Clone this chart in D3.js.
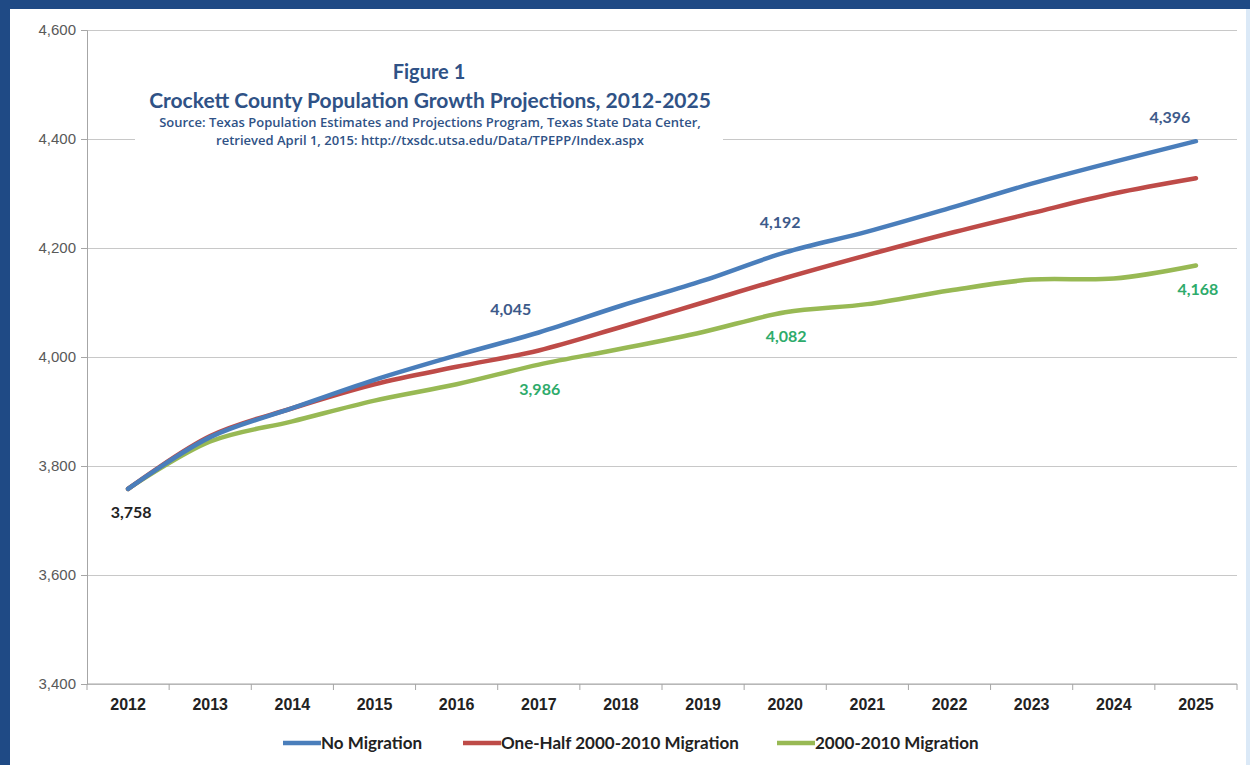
<!DOCTYPE html>
<html>
<head>
<meta charset="utf-8">
<script src="https://cdn.jsdelivr.net/npm/d3@7"></script>
<style>
  body { margin: 0; background: #fff; }
  svg { display: block; font-family: Lato, "Open Sans", sans-serif; }
  .grid line { stroke: #c8c8c8; }
  .axis path, .axis line { stroke: #a6a6a6; }
  .yaxis text { fill: #595959; font-size: 15px; }
  .xaxis text { fill: #222; font-size: 16px; font-weight: bold; }
</style>
</head>
<body>
<svg id="chart"></svg>
<script>
var years = ["2012","2013","2014","2015","2016","2017","2018","2019","2020","2021","2022","2023","2024","2025"];
var noMigration = [3758, 3853, 3906, 3958, 4003, 4045, 4094, 4140, 4192, 4230, 4273, 4318, 4358, 4396];
var halfMigration = [3758, 3855, 3906, 3950, 3982, 4012, 4055, 4100, 4145, 4187, 4227, 4264, 4300, 4328];
var fullMigration = [3758, 3845, 3882, 3920, 3950, 3986, 4015, 4046, 4082, 4097, 4122, 4142, 4144, 4168];
var seriesNames = ["No Migration", "One-Half 2000-2010 Migration", "2000-2010 Migration"];
var yTicks = [3400, 3600, 3800, 4000, 4200, 4400, 4600];
var blueLabelYears = ["2017", "2020", "2025"];
var greenLabelYears = ["2017", "2020", "2025"];

var width = 1250, height = 765;
var margin = {top: 30, right: 13, bottom: 81, left: 87};
var colors = ["#4a7ebb", "#be4b48", "#98b954"];

var svg = d3.select("#chart").attr("width", width).attr("height", height);

// frame
svg.append("rect").attr("x", 0).attr("y", 0).attr("width", width).attr("height", height).attr("fill", "#fff");
svg.append("rect").attr("x", 0).attr("y", 0).attr("width", width).attr("height", 9).attr("fill", "#1f4a85");
svg.append("rect").attr("x", 0).attr("y", 0).attr("width", 10).attr("height", height).attr("fill", "#1f4a85");
svg.append("rect").attr("x", width - 4).attr("y", 9).attr("width", 4).attr("height", height).attr("fill", "#dbe9f7");

var x = d3.scaleBand().domain(years).range([margin.left, width - margin.right]).padding(0);
var y = d3.scaleLinear().domain([3400, 4600]).range([height - margin.bottom, margin.top]);

// gridlines
svg.append("g")
    .attr("class", "grid")
    .attr("transform", "translate(" + margin.left + ",0)")
    .call(d3.axisLeft(y).tickValues(yTicks).tickSize(-(width - margin.left - margin.right)).tickFormat(""))
    .call(g => g.select(".domain").remove());

// title box hides part of the 4,400 gridline
svg.append("rect").attr("x", 135).attr("y", 52).attr("width", 588).attr("height", 100).attr("fill", "#fff");

svg.append("g")
    .attr("class", "axis yaxis")
    .attr("transform", "translate(" + margin.left + ",0)")
    .call(d3.axisLeft(y).tickValues(yTicks).tickSize(6).tickPadding(5).tickFormat(d3.format(",")));

var xAxis = svg.append("g")
    .attr("class", "axis xaxis")
    .attr("transform", "translate(0," + (height - margin.bottom) + ")")
    .call(d3.axisBottom(x).tickSize(0).tickPadding(15));
xAxis.select(".domain").attr("d", "M" + margin.left + ",0H" + (width - margin.right));
// tick marks between categories
xAxis.selectAll(".sep")
    .data(years.concat(["end"]))
    .join("line")
    .attr("class", "sep")
    .attr("x1", (d, i) => i < years.length ? x(d) : x.range()[1])
    .attr("x2", (d, i) => i < years.length ? x(d) : x.range()[1])
    .attr("y1", 0).attr("y2", 6);

var line = d3.line()
    .x((d, i) => x(years[i]) + x.bandwidth() / 2)
    .y(d => y(d))
    .curve(d3.curveCatmullRom.alpha(0.5));

var allSeries = [noMigration, halfMigration, fullMigration];
svg.append("g").selectAll("path")
    .data(allSeries.slice().reverse())
    .join("path")
    .attr("d", line)
    .attr("fill", "none")
    .attr("stroke", (d, i) => colors[2 - i])
    .attr("stroke-width", 4.5)
    .attr("stroke-linecap", "round");

// data labels
var labels = svg.append("g").attr("font-size", 16).attr("font-weight", "bold").attr("text-anchor", "middle");
function px(yr) { return x(yr) + x.bandwidth() / 2; }
var blueOffsets = {"2017": [-28, -17], "2020": [-5, -24], "2025": [-26, -18]};
labels.selectAll(".lb")
    .data(blueLabelYears)
    .join("text")
    .attr("x", d => px(d) + blueOffsets[d][0])
    .attr("y", d => y(noMigration[years.indexOf(d)]) + blueOffsets[d][1])
    .attr("fill", "#3d5a8a")
    .text(d => d3.format(",")(noMigration[years.indexOf(d)]));
var greenOffsets = {"2017": [1, 30], "2020": [1, 30], "2025": [2, 30]};
labels.selectAll(".lg")
    .data(greenLabelYears)
    .join("text")
    .attr("x", d => px(d) + greenOffsets[d][0])
    .attr("y", d => y(fullMigration[years.indexOf(d)]) + greenOffsets[d][1])
    .attr("fill", "#2eab6b")
    .text(d => d3.format(",")(fullMigration[years.indexOf(d)]));
labels.append("text")
    .attr("x", px(years[0]) + 3)
    .attr("y", y(noMigration[0]) + 29)
    .attr("fill", "#222")
    .text(d3.format(",")(noMigration[0]));

// title
var title = svg.append("g").attr("text-anchor", "middle").attr("fill", "#2f5286").attr("font-weight", "bold");
title.append("text").attr("x", 429).attr("y", 79).attr("font-size", 20).text("Figure 1");
title.append("text").attr("x", 430).attr("y", 108).attr("font-size", 21).text("Crockett County Population Growth Projections, 2012-2025");
title.append("text").attr("x", 430).attr("y", 127).attr("font-size", 13).attr("font-family", "'Open Sans', sans-serif").attr("font-weight", 600)
    .text("Source: Texas Population Estimates and Projections Program, Texas State Data Center,");
title.append("text").attr("x", 430).attr("y", 145).attr("font-size", 13).attr("font-family", "'Open Sans', sans-serif").attr("font-weight", 600)
    .text("retrieved April 1, 2015: http://txsdc.utsa.edu/Data/TPEPP/Index.aspx");

// legend
var legendX = [283, 463, 777];
var legend = svg.append("g").attr("transform", "translate(0,743)");
var items = legend.selectAll("g").data(seriesNames).join("g")
    .attr("transform", (d, i) => "translate(" + legendX[i] + ",0)");
items.append("line").attr("x1", 0).attr("x2", 38).attr("y1", 0).attr("y2", 0)
    .attr("stroke", (d, i) => colors[i]).attr("stroke-width", 4.5);
items.append("text").attr("x", 38).attr("y", 6).attr("font-size", 17).attr("font-weight", "bold")
    .attr("fill", "#222").text(d => d);
</script>
</body>
</html>
